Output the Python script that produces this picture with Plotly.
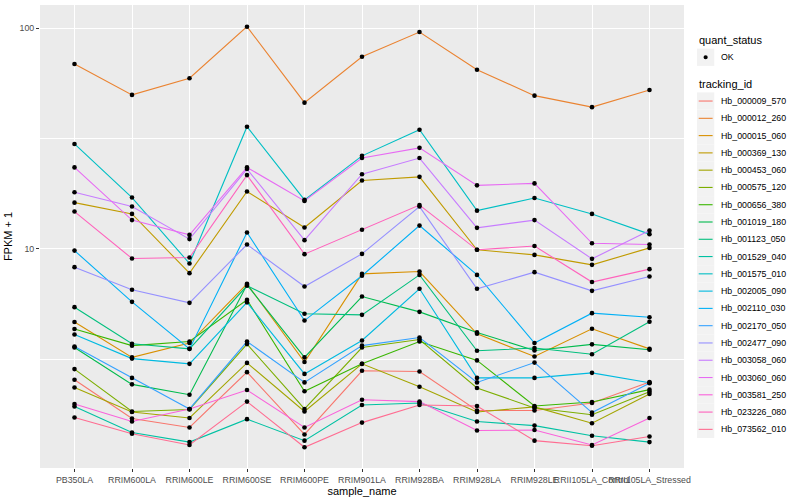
import plotly.graph_objects as go

samples = ["PB350LA", "RRIM600LA", "RRIM600LE", "RRIM600SE", "RRIM600PE", "RRIM901LA",
           "RRIM928BA", "RRIM928LA", "RRIM928LE", "RRII105LA_Control", "RRII105LA_Stressed"]

tracking_ids = ["Hb_000009_570", "Hb_000012_260", "Hb_000015_060", "Hb_000369_130", "Hb_000453_060",
                "Hb_000575_120", "Hb_000656_380", "Hb_001019_180", "Hb_001123_050", "Hb_001529_040",
                "Hb_001575_010", "Hb_002005_090", "Hb_002110_030", "Hb_002170_050", "Hb_002477_090",
                "Hb_003058_060", "Hb_003060_060", "Hb_003581_250", "Hb_023226_080", "Hb_073562_010"]

colors = ["#F8766D", "#EA8331", "#D89000", "#C09B00", "#A3A500", "#7CAE00", "#39B600", "#00BB4E",
          "#00BF7D", "#00C1A3", "#00BFC4", "#00BAE0", "#00B0F6", "#35A2FF", "#9590FF", "#C77CFF",
          "#E76BF3", "#FA62DB", "#FF62BC", "#FF6C91"]

# FPKM + 1 per tracking id, one value per sample
hb_000009_570 = [2.55, 1.70, 1.55, 2.76, 1.44, 2.80, 2.78, 1.85, 1.85, 2.00, 2.49]
hb_000012_260 = [68.9, 49.9, 59.4, 101.7, 46.0, 74.3, 96.2, 64.9, 49.5, 43.9, 52.5]
hb_000015_060 = [4.66, 3.22, 3.74, 6.94, 3.07, 7.70, 7.89, 4.12, 3.25, 4.34, 3.52]
hb_000369_130 = [16.2, 14.4, 7.76, 18.2, 12.5, 20.4, 21.2, 9.9, 9.39, 8.46, 10.1]
hb_000453_060 = [2.35, 1.82, 1.71, 3.04, 1.83, 3.01, 2.37, 1.82, 1.92, 1.62, 2.20]
hb_000575_120 = [2.85, 1.83, 1.87, 3.70, 1.88, 3.57, 3.88, 2.34, 1.90, 1.77, 2.25]
hb_000656_380 = [4.33, 3.64, 3.80, 5.87, 2.26, 3.01, 3.80, 3.12, 1.94, 2.02, 2.30]
hb_001019_180 = [3.57, 2.43, 2.18, 6.87, 3.22, 6.08, 5.18, 4.18, 3.46, 3.69, 3.49]
hb_001123_050 = [5.44, 3.71, 3.52, 6.80, 5.08, 5.02, 7.62, 3.45, 3.55, 3.33, 4.67]
hb_001529_040 = [1.93, 1.47, 1.33, 1.69, 1.35, 1.96, 2.00, 1.65, 1.58, 1.42, 1.33]
hb_001575_010 = [29.9, 17.08, 8.58, 35.8, 16.67, 26.4, 34.7, 14.9, 17.0, 14.4, 11.66]
hb_002005_090 = [4.09, 3.18, 3.01, 5.72, 2.71, 3.84, 6.59, 2.60, 2.60, 2.74, 2.47]
hb_002110_030 = [9.82, 5.75, 3.52, 11.86, 4.73, 7.55, 12.75, 7.62, 3.74, 5.11, 4.90]
hb_002170_050 = [3.61, 2.60, 1.88, 3.80, 2.48, 3.64, 3.96, 2.48, 3.05, 1.81, 2.46]
hb_002477_090 = [8.26, 6.52, 5.69, 10.46, 6.75, 9.49, 15.55, 6.59, 7.84, 6.45, 7.49]
hb_003058_060 = [18.06, 15.55, 11.07, 23.0, 10.95, 21.8, 25.8, 12.45, 13.5, 9.01, 12.1]
hb_003060_060 = [23.4, 13.5, 11.57, 23.4, 16.5, 25.8, 28.7, 19.4, 19.8, 10.6, 10.46]
hb_003581_250 = [1.98, 1.65, 1.88, 2.29, 1.55, 2.07, 2.03, 1.50, 1.51, 1.29, 1.71]
hb_023226_080 = [14.76, 9.04, 9.13, 21.6, 9.46, 12.2, 15.8, 9.9, 10.3, 7.07, 8.09]
hb_073562_010 = [1.72, 1.45, 1.29, 2.03, 1.26, 1.63, 1.96, 1.94, 1.35, 1.28, 1.41]

series = [hb_000009_570, hb_000012_260, hb_000015_060, hb_000369_130, hb_000453_060,
          hb_000575_120, hb_000656_380, hb_001019_180, hb_001123_050, hb_001529_040,
          hb_001575_010, hb_002005_090, hb_002110_030, hb_002170_050, hb_002477_090,
          hb_003058_060, hb_003060_060, hb_003581_250, hb_023226_080, hb_073562_010]

quant_status = ["OK"]

FONT = "Liberation Sans, Arial, sans-serif"

fig = go.Figure()
for name, vals, col in zip(tracking_ids, series, colors):
    fig.add_trace(go.Scatter(x=samples, y=vals, mode="lines", name=name,
                             line=dict(color=col, width=1.1), showlegend=False,
                             hoverinfo="skip"))
for name, vals in zip(tracking_ids, series):
    fig.add_trace(go.Scatter(x=samples, y=vals, mode="markers", name=name,
                             marker=dict(color="black", size=4.6), showlegend=False))

# plot area in pixels
L, R, T, B = 40, 684, 5, 468
W, H = R - L, B - T


def px(xp):
    return (xp - L) / W


def py(yp):
    return (B - yp) / H


shapes = []
annotations = []

# legend: quant_status
annotations.append(dict(x=px(697), y=py(40), xref="paper", yref="paper", text="quant_status",
                        showarrow=False, xanchor="left", yanchor="middle",
                        font=dict(family=FONT, size=11, color="black")))
key = 17.28
y0 = 48.6
shapes.append(dict(type="rect", xref="paper", yref="paper", x0=px(697), x1=px(697 + key),
                   y0=py(y0), y1=py(y0 + key), fillcolor="#F2F2F2", line=dict(width=0)))
cx, cy = 697 + key / 2, y0 + key / 2
shapes.append(dict(type="circle", xref="paper", yref="paper", x0=px(cx - 2.1), x1=px(cx + 2.1),
                   y0=py(cy - 2.1), y1=py(cy + 2.1), fillcolor="black", line=dict(width=0)))
annotations.append(dict(x=px(718.5), y=py(cy), xref="paper", yref="paper", text=quant_status[0],
                        showarrow=False, xanchor="left", yanchor="middle",
                        font=dict(family=FONT, size=8.8, color="black")))

# legend: tracking_id
annotations.append(dict(x=px(697), y=py(84), xref="paper", yref="paper", text="tracking_id",
                        showarrow=False, xanchor="left", yanchor="middle",
                        font=dict(family=FONT, size=11, color="black")))
top = 92.4
for i, (name, col) in enumerate(zip(tracking_ids, colors)):
    yt = top + i * key
    yc = yt + key / 2
    shapes.append(dict(type="rect", xref="paper", yref="paper", x0=px(697), x1=px(697 + key),
                       y0=py(yt), y1=py(yt + key), fillcolor="#F2F2F2", line=dict(width=0)))
    shapes.append(dict(type="line", xref="paper", yref="paper", x0=px(698.7), x1=px(712.6),
                       y0=py(yc), y1=py(yc), line=dict(color=col, width=1.1)))
    annotations.append(dict(x=px(718.5), y=py(yc), xref="paper", yref="paper", text=name,
                            showarrow=False, xanchor="left", yanchor="middle",
                            font=dict(family=FONT, size=8.8, color="black")))

fig.update_layout(
    width=800, height=500,
    margin=dict(l=L, r=800 - R, t=T, b=500 - B),
    paper_bgcolor="white", plot_bgcolor="#EBEBEB",
    font=dict(family=FONT, size=11, color="black"),
    shapes=shapes, annotations=annotations,
    showlegend=False,
    xaxis=dict(type="category", categoryorder="array", categoryarray=samples,
               range=[-0.6, 10.6], showgrid=True, gridcolor="white", gridwidth=1.1,
               zeroline=False, showline=False, ticks="outside", ticklen=3, tickwidth=1,
               tickcolor="#333333", tickangle=0,
               tickfont=dict(family=FONT, size=8.8, color="#4D4D4D"),
               title=dict(text="sample_name", standoff=2,
                          font=dict(family=FONT, size=11, color="black")),
               automargin=False),
    yaxis=dict(type="log", range=[0.0064, 2.1056], tickmode="array", tickvals=[10, 100],
               ticktext=["10", "100"], showgrid=True, gridcolor="white", gridwidth=1.1,
               minor=dict(tickmode="array", tickvals=[3.1623, 31.623], showgrid=True,
                          gridcolor="white", gridwidth=0.55, ticks=""),
               zeroline=False, showline=False, ticks="outside", ticklen=3, tickwidth=1,
               tickcolor="#333333",
               tickfont=dict(family=FONT, size=8.8, color="#4D4D4D"),
               title=dict(text="FPKM + 1", standoff=4,
                          font=dict(family=FONT, size=11, color="black")),
               automargin=False),
)

fig.write_html("out.html", config={"displayModeBar": False},
               post_script="document.body.style.margin='0';document.body.style.overflow='hidden';")
